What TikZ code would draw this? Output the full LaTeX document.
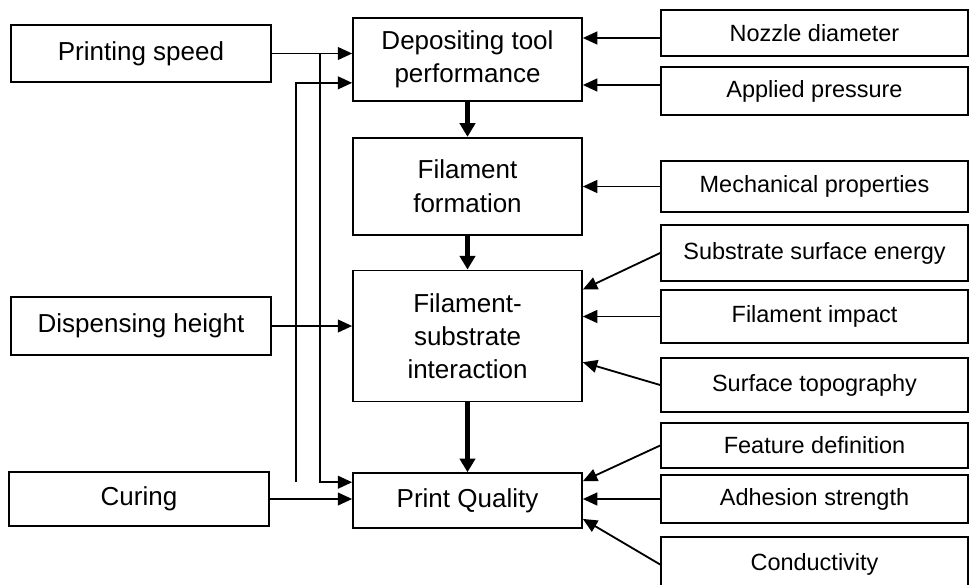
\documentclass[tikz,border=0pt]{standalone}
\usepackage{fontspec}
\setmainfont{Liberation Sans}
\usepackage{tikz}
\usetikzlibrary{arrows.meta, positioning}
\tikzstyle{block} = [rectangle, draw, line width=1.2pt, minimum width=5.725cm, inner sep=2pt, align=center, font=\fontsize{18.5}{23.5}\selectfont]
\tikzstyle{param} = [rectangle, draw, line width=1.2pt, minimum width=6.5cm, font=\fontsize{18.5}{23.5}\selectfont]
\tikzstyle{prop} = [rectangle, draw, line width=1.2pt, minimum width=7.675cm, font=\fontsize{16.7}{20}\selectfont]
\tikzstyle{link} = [-{Triangle[length=0.36cm,width=0.32cm]}, line width=1.3pt]
\tikzstyle{flow} = [-{Triangle[length=0.34cm,width=0.38cm]}, line width=3.5pt]

\begin{document}
\begin{tikzpicture}
	\useasboundingbox (0,0) rectangle (24.25,-14.6);

	% Kolom tengah
	\node [block, minimum height=2.075cm] (depo) at (11.6875,-1.4875) {Depositing tool\\performance};
	\node [block, minimum height=2.425cm, below=0.875cm of depo] (formation) {Filament\\formation};
	\node [block, minimum height=3.275cm, below=0.85cm of formation] (interaction) {Filament-\\substrate\\interaction};
	\node [block, minimum height=1.375cm, below=1.75cm of interaction] (quality) {Print Quality};

	% Parameter proses (kiri)
	\node [param, minimum height=1.425cm] (speed) at (3.525,-1.3375) {Printing speed};
	\node [param, minimum height=1.45cm] (height) at (3.525,-8.15) {Dispensing height};
	\node [param, minimum height=1.35cm] (curing) at (3.475,-12.475) {Curing};

	% Faktor (kanan)
	\node [prop, minimum height=1.15cm] (nozzle) at (20.3625,-0.825) {Nozzle diameter};
	\node [prop, minimum height=1.2cm] (pressure) at (20.3625,-2.275) {Applied pressure};
	\node [prop, minimum height=1.275cm] (mech) at (20.3625,-4.6625) {Mechanical properties};
	\node [prop, minimum height=1.4cm] (energy) at (20.3625,-6.325) {Substrate surface energy};
	\node [prop, minimum height=1.325cm] (impact) at (20.3625,-7.9125) {Filament impact};
	\node [prop, minimum height=1.35cm] (topo) at (20.3625,-9.625) {Surface topography};
	\node [prop, minimum height=1.125cm] (feature) at (20.3625,-11.1375) {Feature definition};
	\node [prop, minimum height=1.2cm] (adhesion) at (20.3625,-12.475) {Adhesion strength};
	\node [prop, minimum height=1.375cm] (conduct) at (20.3625,-14.1125) {Conductivity};

	% Alur utama
	\draw[flow] (depo) -- (formation);
	\draw[flow] (formation) -- (interaction);
	\draw[flow] (interaction) -- (quality);

	% Jalur kiri
	\coordinate (sp) at (speed.east -| depo.west);
	\coordinate (busa) at ([xshift=-0.8cm]sp);
	\coordinate (qin) at ([yshift=-0.25cm]quality.north west);
	\coordinate (busb) at ([xshift=-1.4cm]qin);
	\coordinate (din) at ([yshift=0.475cm]depo.south west);
	\draw[link] (speed.east) -- (sp);
	\draw[link] (busa) |- (qin);
	\draw[link] (busb) |- (din);
	\draw[link] (height.east) -- (height.east -| interaction.west);
	\draw[link] (curing.east) -- (curing.east -| quality.west);

	% Jalur kanan
	\draw[link] ([yshift=-0.125cm]nozzle.west) -- ([yshift=-0.125cm]nozzle.west -| depo.east);
	\draw[link] ([yshift=0.15cm]pressure.west) -- ([yshift=0.15cm]pressure.west -| depo.east);
	\draw[link] (mech.west) -- (mech.west -| formation.east);
	\draw[link] (energy.west) -- ([yshift=-0.5cm]interaction.north east);
	\draw[link] (impact.west) -- (impact.west -| interaction.east);
	\draw[link] (topo.west) -- ([yshift=1cm]interaction.south east);
	\draw[link] (feature.west) -- ([yshift=-0.225cm]quality.north east);
	\draw[link] (adhesion.west) -- (adhesion.west -| quality.east);
	\draw[link] (conduct.west) -- ([yshift=0.25cm]quality.south east);
\end{tikzpicture}
\end{document}
